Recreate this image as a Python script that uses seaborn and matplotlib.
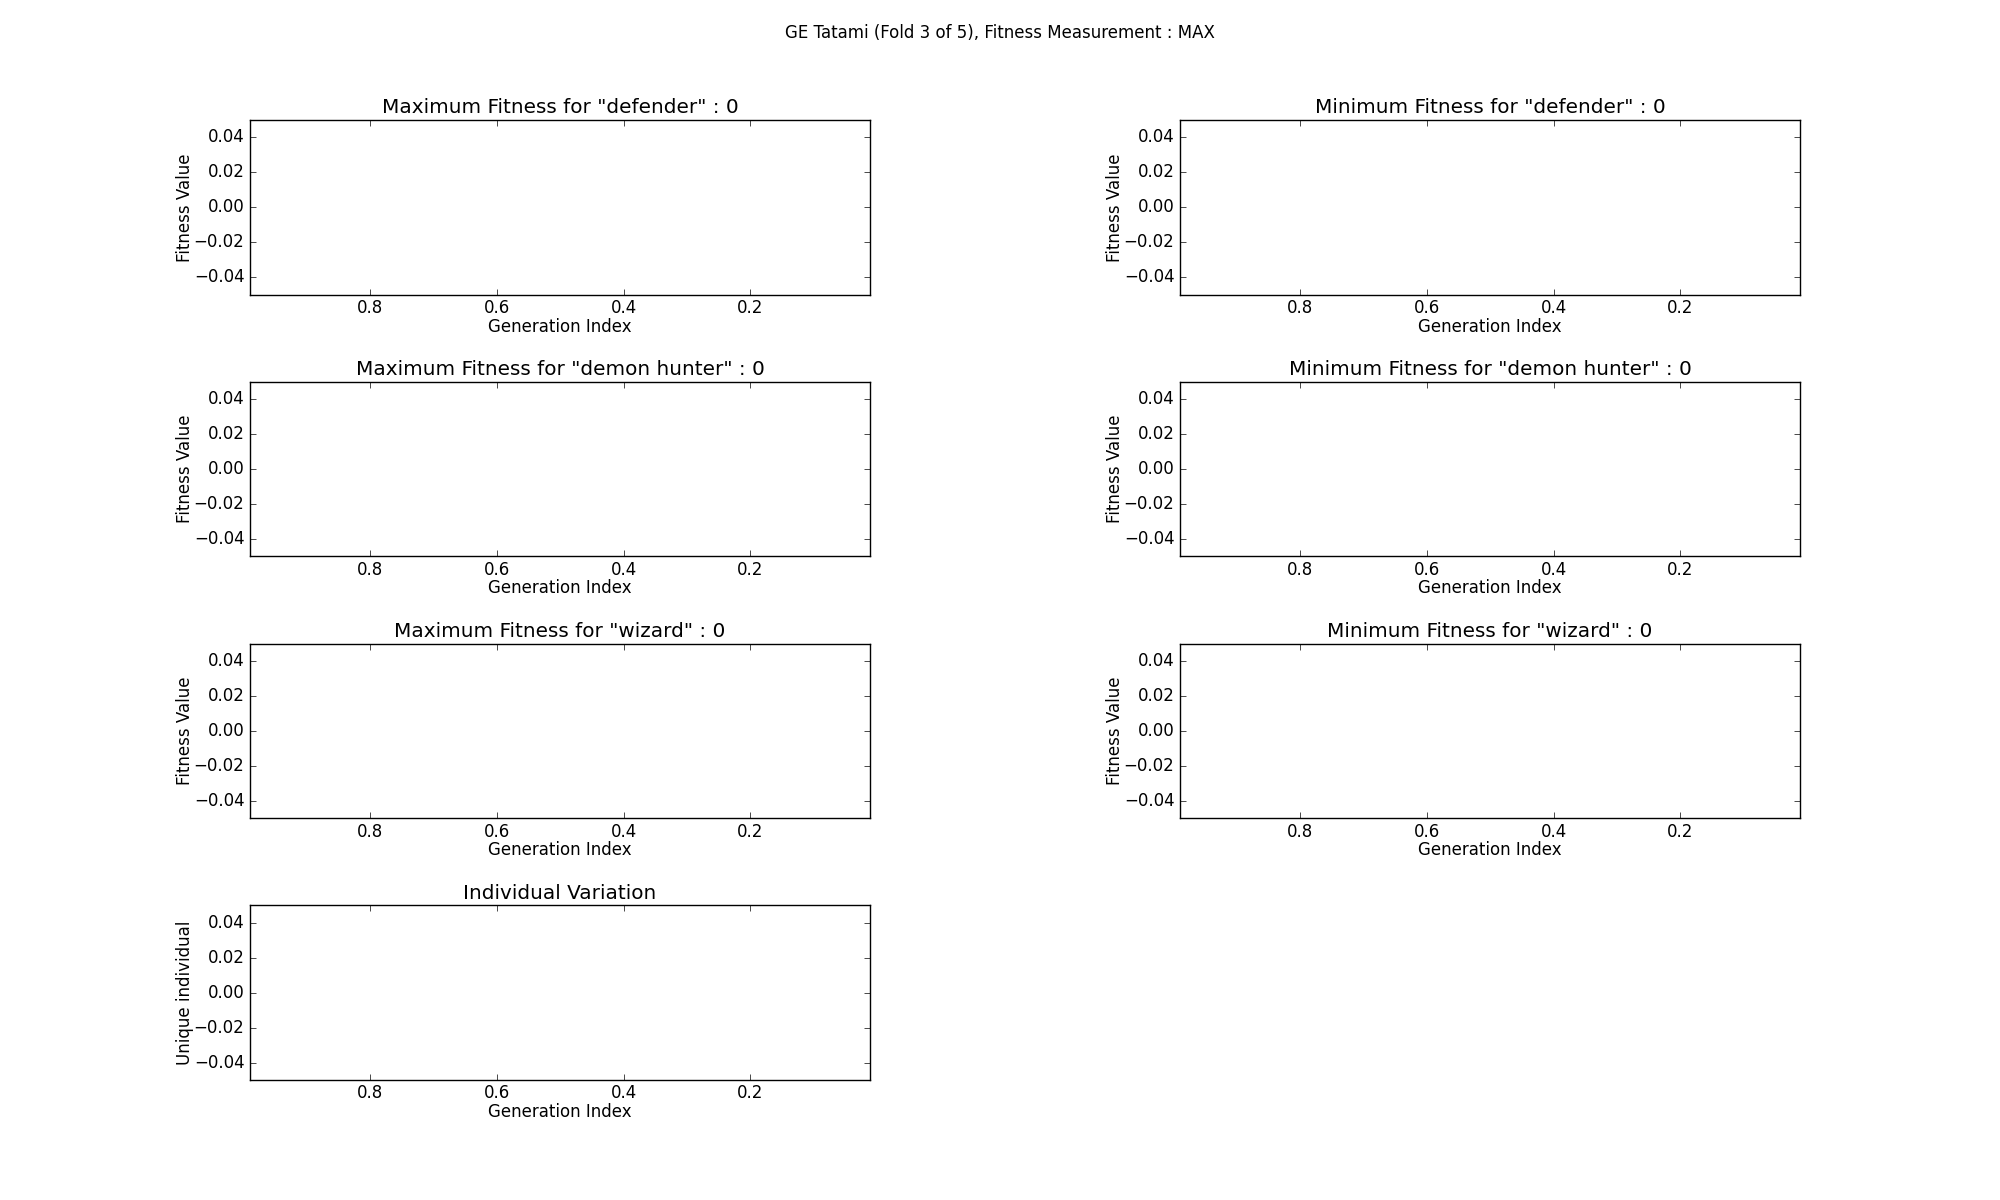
import matplotlib
matplotlib.use("Agg")
import matplotlib.pyplot as plt
import seaborn as sns
import numpy as np
import pandas as pd

# ---- data (all series are empty in the reference) ----
suptitle = "GE Tatami (Fold 3 of 5), Fitness Measurement : MAX"
classes = ["defender", "demon hunter", "wizard"]
max_fitness = [0, 0, 0]
min_fitness = [0, 0, 0]
generations = []
max_series = {c: [] for c in classes}
min_series = {c: [] for c in classes}
unique_individuals = []
x_limits = (0.99, 0.011)
y_limits = (-0.05, 0.05)

plt.style.use("classic")
plt.rcParams["figure.facecolor"] = "white"
plt.rcParams["savefig.facecolor"] = "white"
plt.rcParams["font.family"] = ["DejaVu Sans"]
plt.rcParams["xtick.major.pad"] = 3.2

fig = plt.figure(figsize=(20, 12), dpi=100)
fig.subplots_adjust(left=0.125, right=0.9, bottom=0.1, top=0.9, wspace=0.5, hspace=0.5)
fig.suptitle(suptitle, fontsize=12)


def draw(ax, xs, ys, title, ylabel):
    df = pd.DataFrame({"gen": pd.Series(xs, dtype=float), "val": pd.Series(ys, dtype=float)})
    if len(df):
        sns.lineplot(data=df, x="gen", y="val", ax=ax)
    ax.set_xlim(*x_limits)
    ax.set_ylim(*y_limits)
    ax.set_xticks([0.8, 0.6, 0.4, 0.2])
    ax.set_yticks([-0.04, -0.02, 0.0, 0.02, 0.04])
    ax.set_title(title)
    ax.set_xlabel("Generation Index", labelpad=0.4)
    ax.set_ylabel(ylabel, labelpad=-0.5)


for i, c in enumerate(classes):
    ax = fig.add_subplot(4, 2, 2 * i + 1)
    draw(ax, generations, max_series[c], f'Maximum Fitness for "{c}" : {max_fitness[i]}', "Fitness Value")
    ax = fig.add_subplot(4, 2, 2 * i + 2)
    draw(ax, generations, min_series[c], f'Minimum Fitness for "{c}" : {min_fitness[i]}', "Fitness Value")

ax = fig.add_subplot(4, 2, 7)
draw(ax, generations, unique_individuals, "Individual Variation", "Unique individual")

fig.savefig("out.png", dpi=100)
